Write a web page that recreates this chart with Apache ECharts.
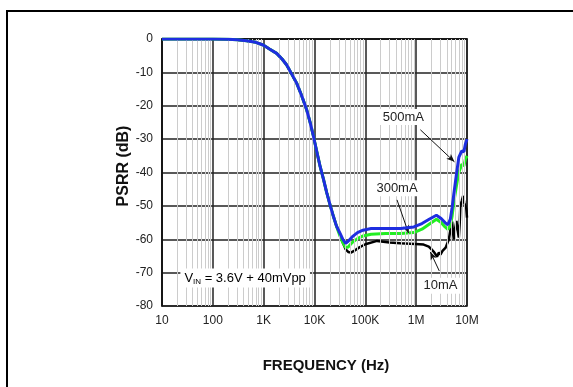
<!DOCTYPE html>
<html>
<head>
<meta charset="utf-8">
<script src="https://cdn.jsdelivr.net/npm/echarts@6/dist/echarts.min.js"></script>
<style>
  html, body { margin: 0; padding: 0; background: #fff; overflow: hidden; }
  #chart { width: 573px; height: 387px; }
  #frame { position: absolute; left: 6px; top: 10px; width: 700px; height: 500px; border-top: 2.5px solid #000; border-left: 2.5px solid #000; pointer-events: none; }
</style>
</head>
<body>
<div id="chart"></div>
<div id="frame"></div>
<script>
// PSRR vs frequency, three load currents
const xTickLabels = { 10: '10', 100: '100', 1000: '1K', 10000: '10K', 100000: '100K', 1000000: '1M', 10000000: '10M' };
const yTicks = [0, -10, -20, -30, -40, -50, -60, -70, -80];

// Shared roll-off region (Hz, dB)
const rollFreq = [10, 100, 200, 300, 460, 700, 980, 1300, 1800, 2300, 2840, 3500, 4480, 5600, 7040, 8200, 9550, 11000, 12900, 15000, 17500, 20500, 23600, 27000];
const rollDb   = [0, 0, -0.1, -0.2, -0.5, -1.0, -1.8, -3.0, -4.3, -6.0, -7.8, -10.3, -13.3, -17, -21.3, -25, -29.2, -33.5, -38.2, -42, -46.2, -50, -53.2, -56];

// 500mA
const freq500 = [31700, 36000, 41000, 46000, 55000, 70000, 90000, 130000, 250000, 500000, 900000, 1300000, 1800000, 2500000, 3100000, 3700000, 4200000, 4700000, 5100000, 5500000, 6200000, 6900000, 7900000, 8700000, 9300000, 10000000];
const db500   = [-58.2, -60, -61.2, -60.6, -59.3, -58, -57.3, -56.8, -56.8, -56.8, -56.3, -55.3, -54, -52.8, -53.8, -55, -55.7, -54, -50.5, -46.5, -40.5, -35.5, -33.5, -33.8, -31.5, -30];

// 300mA
const freq300 = [31700, 36000, 41000, 46000, 55000, 70000, 90000, 130000, 250000, 500000, 900000, 1300000, 1800000, 2500000, 3100000, 3700000, 4200000, 4700000, 5100000, 5500000, 6200000, 6900000, 7900000, 8700000, 9300000, 10000000];
const db300   = [-59, -61, -62.5, -62.3, -61, -59.8, -59, -58.5, -58.3, -58.3, -58, -57, -55.5, -54, -55, -56.3, -57, -56, -53, -49, -44, -40, -37.5, -38, -36, -35];

// 10mA
const freq10 = [31700, 36000, 41000, 46000, 52000, 60000, 75000, 100000, 170000, 300000, 490000, 960000, 1400000, 1770000, 2000000, 2200000, 2400000, 2570000, 2800000, 3000000, 3300000, 3500000, 3800000, 4100000, 4400000, 4600000, 4850000, 5100000, 5300000, 5500000, 5800000, 6200000, 6500000, 6900000, 7200000, 7400000, 7900000, 8400000, 8800000, 9300000, 9700000, 10000000];
const db10   = [-58.5, -61, -63, -63.8, -64, -63.5, -62.5, -61.5, -60.5, -61, -61.2, -61.4, -61.6, -62.2, -63, -63.7, -64.5, -65.2, -64, -64.6, -63.5, -63.2, -62.5, -62, -60, -58.2, -56, -54.7, -58, -60, -57, -54.5, -57, -59.5, -55, -50, -48.5, -47, -49, -49.5, -51, -53.5];

function pairs(fa, da) { return fa.map((f, i) => [f, da[i]]); }
const curve500 = pairs(rollFreq, rollDb).concat(pairs(freq500, db500));
const curve300 = pairs(rollFreq, rollDb).concat(pairs(freq300, db300));
const curve10  = pairs(rollFreq, rollDb).concat(pairs(freq10, db10));

// light vertical lines at 2..9 of every decade
const minorLines = [];
for (let d = 10; d < 1e7; d *= 10) {
  for (let m = 2; m <= 9; m++) minorLines.push({ xAxis: d * m });
}

const FONT = 'Liberation Sans, Arial, sans-serif';

const chart = echarts.init(document.getElementById('chart'), null, { renderer: 'canvas' });

const option = {
  animation: false,
  backgroundColor: '#fff',
  grid: { left: 162, right: 106, top: 39, bottom: 81, show: true, borderColor: '#111', borderWidth: 1.5, backgroundColor: '#fff' },
  xAxis: {
    type: 'log', logBase: 10, min: 10, max: 1e7, interval: 1,
    axisLine: { show: true, lineStyle: { color: '#111', width: 1.5 } },
    axisTick: { show: false },
    splitLine: { show: true, lineStyle: { color: '#222', width: 1.5 } },
    axisLabel: { margin: 9, color: '#222', fontFamily: FONT, fontSize: 12, formatter: v => xTickLabels[Math.round(v)] || '' }
  },
  yAxis: {
    type: 'value', min: -80, max: 0, interval: 10,
    axisLine: { show: true, lineStyle: { color: '#111', width: 1.5 } },
    axisTick: { show: false },
    splitLine: { show: true, lineStyle: { color: '#222', width: 1.5 } },
    axisLabel: { margin: 9, color: '#222', fontFamily: FONT, fontSize: 12, formatter: v => yTicks.includes(v) ? String(v) : '' }
  },
  series: [
    {
      name: 'grid-minor', type: 'line', data: [], silent: true,
      markLine: { silent: true, symbol: ['none', 'none'], label: { show: false },
        lineStyle: { color: '#cccccc', width: 1, type: 'solid' }, data: minorLines },
      z: 1
    },
    { name: '10mA', type: 'line', data: curve10, showSymbol: false, lineStyle: { color: '#000', width: 2.5 }, z: 3 },
    { name: '300mA', type: 'line', data: curve300, showSymbol: false, lineStyle: { color: '#22ee22', width: 3 }, z: 4 },
    { name: '500mA', type: 'line', data: curve500, showSymbol: false, lineStyle: { color: '#1e2ee0', width: 3 }, z: 5,
      markLine: {
        silent: true, symbol: ['none', 'arrow'], symbolSize: [5, 8], label: { show: false },
        lineStyle: { color: '#111', width: 1, type: 'solid' },
        data: [
          [{ coord: [1.21e6, -27.2] }, { coord: [5.66e6, -36.8] }],
          [{ coord: [4.2e5, -48.2] }, { coord: [7.1e5, -58.2] }],
          [{ coord: [2.85e6, -69.5] }, { coord: [1.9e6, -63.8] }]
        ]
      }
    }
  ]
};
chart.setOption(option);

// annotation text placed in data coordinates, on white boxes
const notes = [
  { at: [5.6e5, -23.4], text: '500mA' },
  { at: [4.2e5, -44.7], text: '300mA' },
  { at: [3.0e6, -73.9], text: '10mA' }
];
const graphics = notes.map(n => {
  const p = chart.convertToPixel({ gridIndex: 0 }, n.at);
  return { type: 'text', x: p[0], y: p[1], z: 20,
    style: { text: n.text, fill: '#222', font: '13px ' + FONT, align: 'center', verticalAlign: 'middle',
      backgroundColor: '#fff', padding: [2, 3, 1, 3] } };
});
const vinPos = chart.convertToPixel({ gridIndex: 0 }, [23, -71.6]);
graphics.push({
  type: 'text', x: vinPos[0], y: vinPos[1], z: 20,
  style: {
    text: '{a|V}{s|IN}{a| = 3.6V + 40mVpp}', align: 'left', verticalAlign: 'middle',
    backgroundColor: '#fff', padding: [3, 4, 2, 4],
    rich: {
      a: { fontSize: 13, fontFamily: FONT, color: '#222' },
      s: { fontSize: 8, fontFamily: FONT, color: '#222', padding: [6, 0, 0, 0] }
    }
  }
});
// axis titles
graphics.push({ type: 'text', x: 326, y: 366, z: 20,
  style: { text: 'FREQUENCY (Hz)', fill: '#111', font: 'bold 15px ' + FONT, align: 'center', verticalAlign: 'middle' } });
graphics.push({ type: 'text', x: 124, y: 166, rotation: Math.PI / 2, z: 20,
  style: { text: 'PSRR (dB)', fill: '#111', font: 'bold 16px ' + FONT, align: 'center', verticalAlign: 'middle' } });

chart.setOption({ graphic: graphics });
</script>
</body>
</html>
